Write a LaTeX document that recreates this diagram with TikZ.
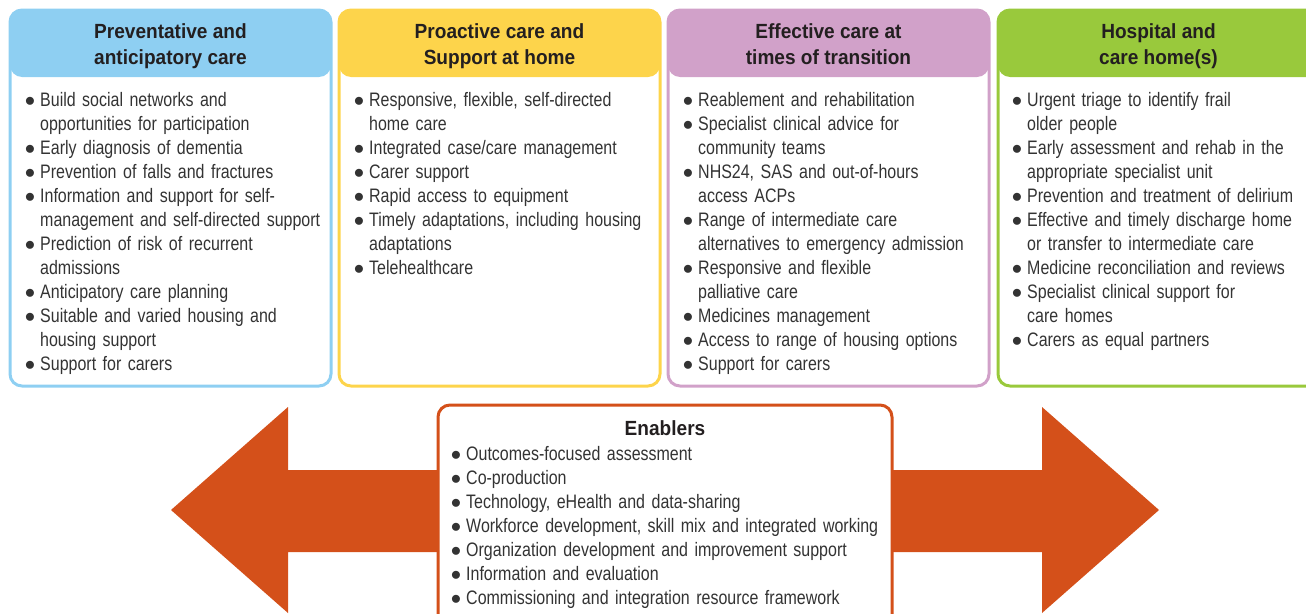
\documentclass[tikz,border=0pt]{standalone}
\usepackage{fontspec}
\setmainfont{Liberation Sans}[FakeStretch=0.82]
\newfontfamily\headfont{Liberation Sans}[FakeStretch=0.93]
\usepackage{enumitem}
\setlist[itemize]{label=$\bullet$, nosep, leftmargin=12pt, labelsep=5pt}
\usetikzlibrary{positioning}
\definecolor{prevblue}{HTML}{8ECFF2}
\definecolor{homeyellow}{HTML}{FDD44B}
\definecolor{transmauve}{HTML}{D1A1C9}
\definecolor{hospgreen}{HTML}{99C93C}
\definecolor{enaborange}{HTML}{D4501A}
\definecolor{txtdark}{HTML}{231F20}
\definecolor{txtbody}{HTML}{333333}
\begin{document}
\begin{tikzpicture}[x=1pt, y=-1pt,
  col box/.style={draw=#1, line width=3pt, rounded corners=12pt, minimum width=321pt, minimum height=376pt, anchor=north west, inner sep=0pt, outer sep=0pt,
    path picture={\fill[#1] (path picture bounding box.north west) rectangle ([yshift=-67pt]path picture bounding box.north east);}},
  head text/.style={font=\headfont\bfseries\fontsize{20.5}{26}\selectfont, align=center, text=txtdark, inner sep=0pt,
    execute at begin node=\strut, execute at end node=\strut},
  item list/.style={font=\fontsize{19.5}{24}\selectfont, text width=340pt, anchor=north west, inner sep=0pt, text=txtbody}]
\useasboundingbox (0,0) rectangle (1306,613);
% the double arrow behind the enablers
\fill[enaborange] (171,510) -- (288,407) -- (288,470) -- (1042,470) -- (1042,407) -- (1159,510) -- (1042,613) -- (1042,552) -- (288,552) -- (288,613) -- cycle;
\begin{scope}
\node[col box=prevblue] (prev) at (10,10) {};
\node[col box=homeyellow] (home) at (339,10) {};
\node[col box=transmauve] (trans) at (668,10) {};
\node[col box=hospgreen] (hosp) at (998,10) {};
\node[draw=enaborange, line width=3pt, fill=white, rounded corners=12pt, minimum width=454pt, minimum height=230pt, anchor=north west, outer sep=0pt] (enab) at (438,405) {};
\end{scope}
\begin{scope}
\node[head text] (prevtitle) at ([yshift=-38pt]prev.north) {Preventative and\\anticipatory care};
\node[head text] (hometitle) at ([yshift=-38pt]home.north) {Proactive care and\\Support at home};
\node[head text] (transtitle) at ([yshift=-38pt]trans.north) {Effective care at\\times of transition};
\node[head text] (hosptitle) at ([yshift=-38pt]hosp.north) {Hospital and\\care home(s)};
\node[font=\headfont\bfseries\fontsize{20.5}{26}\selectfont, text=txtdark, anchor=base] (enabtitle) at (665,435) {Enablers};
\end{scope}
\begin{scope}
\node[item list] (prevlist) at ([xshift=18pt, yshift=-72pt]prev.north west) {%
\begin{itemize}
\item Build social networks and\\opportunities for participation
\item Early diagnosis of dementia
\item Prevention of falls and fractures
\item Information and support for self-\\management and self-directed support
\item Prediction of risk of recurrent\\admissions
\item Anticipatory care planning
\item Suitable and varied housing and\\housing support
\item Support for carers
\end{itemize}};
\node[item list] (homelist) at ([xshift=18pt, yshift=-72pt]home.north west) {%
\begin{itemize}
\item Responsive, flexible, self-directed\\home care
\item Integrated case/care management
\item Carer support
\item Rapid access to equipment
\item Timely adaptations, including housing\\adaptations
\item Telehealthcare
\end{itemize}};
\node[item list] (translist) at ([xshift=18pt, yshift=-72pt]trans.north west) {%
\begin{itemize}
\item Reablement and rehabilitation
\item Specialist clinical advice for\\community teams
\item NHS24, SAS and out-of-hours\\access ACPs
\item Range of intermediate care\\alternatives to emergency admission
\item Responsive and flexible\\palliative care
\item Medicines management
\item Access to range of housing options
\item Support for carers
\end{itemize}};
\node[item list] (hosplist) at ([xshift=17pt, yshift=-72pt]hosp.north west) {%
\begin{itemize}
\item Urgent triage to identify frail\\older people
\item Early assessment and rehab in the\\appropriate specialist unit
\item Prevention and treatment of delirium
\item Effective and timely discharge home\\or transfer to intermediate care
\item Medicine reconciliation and reviews
\item Specialist clinical support for\\care homes
\item Carers as equal partners
\end{itemize}};
\node[item list, text width=440pt] (enablist) at ([xshift=16pt, yshift=-31.5pt]enab.north west) {%
\begin{itemize}
\item Outcomes-focused assessment
\item Co-production
\item Technology, eHealth and data-sharing
\item Workforce development, skill mix and integrated working
\item Organization development and improvement support
\item Information and evaluation
\item Commissioning and integration resource framework
\end{itemize}};
\end{scope}
\end{tikzpicture}
\end{document}
